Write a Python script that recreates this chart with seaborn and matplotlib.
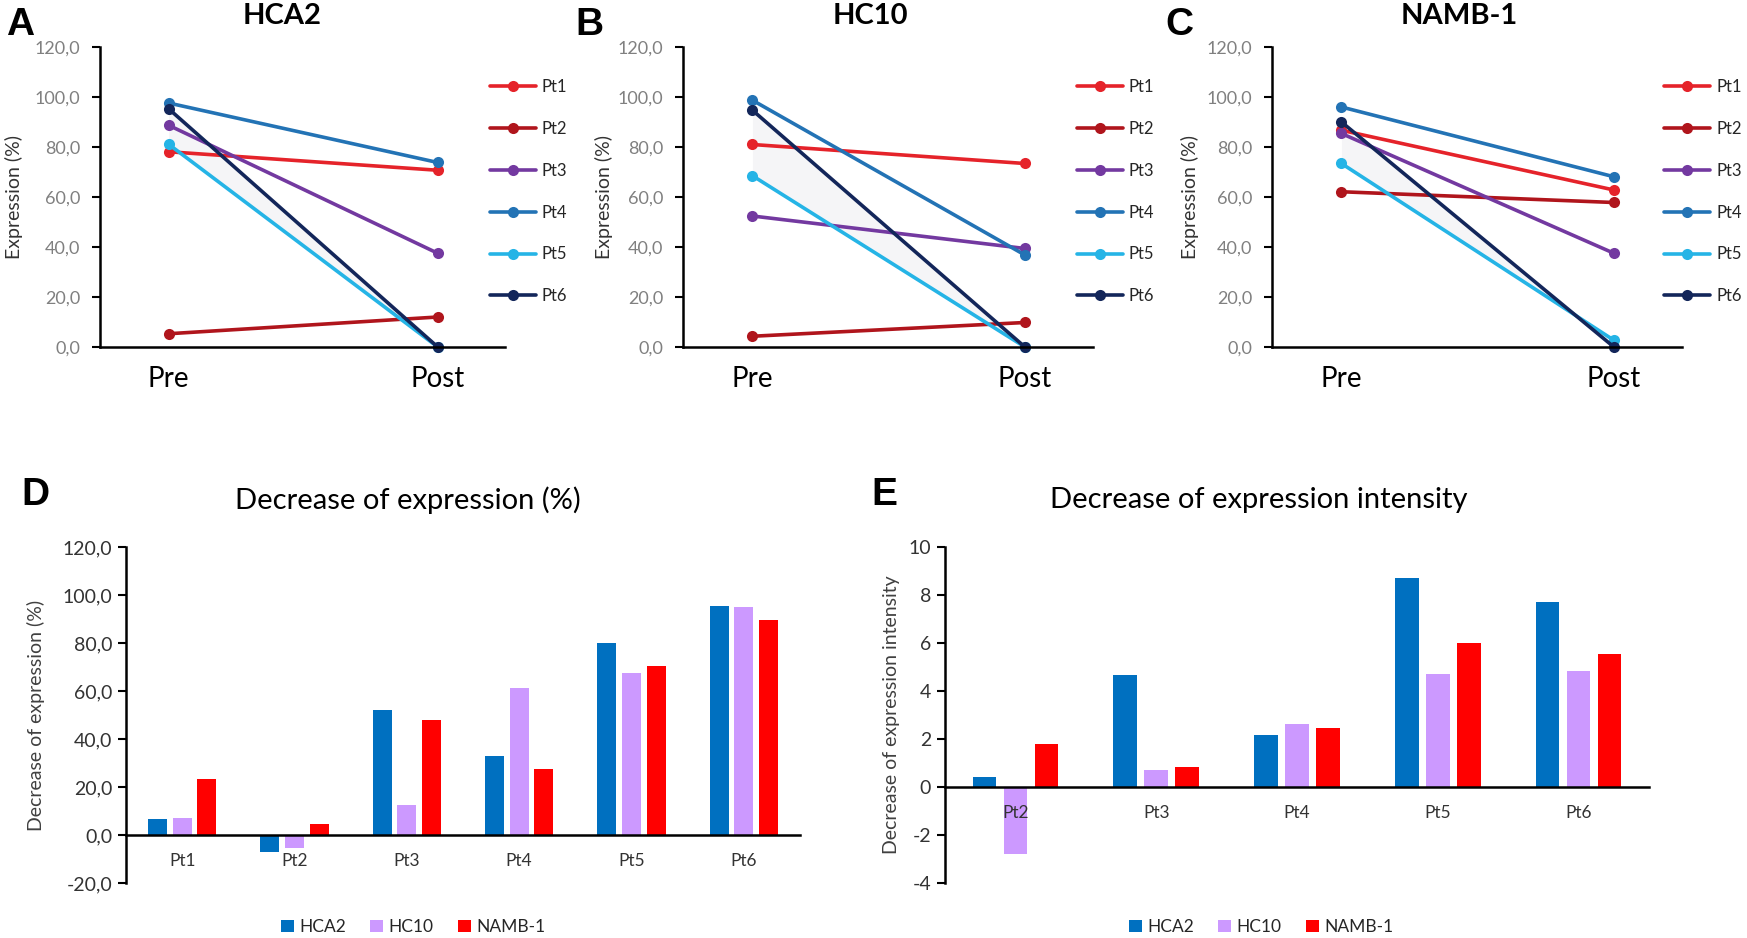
import numpy as np
import pandas as pd
import matplotlib
matplotlib.use("Agg")
import matplotlib.pyplot as plt
import seaborn as sns

# ---------------- data ----------------
patients = ["Pt1", "Pt2", "Pt3", "Pt4", "Pt5", "Pt6"]
timepoints = ["Pre", "Post"]

hca2_pre = [78.1, 5.3, 88.7, 97.6, 81.1, 95.3]
hca2_post = [70.7, 12.0, 37.5, 73.8, 0.0, 0.0]
hc10_pre = [81.0, 4.3, 52.4, 98.7, 68.5, 94.7]
hc10_post = [73.4, 9.8, 39.4, 36.8, 0.0, 0.0]
namb_pre = [86.7, 62.1, 85.4, 96.0, 73.4, 90.0]
namb_post = [62.8, 57.8, 37.5, 68.1, 2.7, 0.0]

markers = ["HCA2", "HC10", "NAMB-1"]
dec_pct_hca2 = [6.7, -7.0, 51.9, 32.8, 80.2, 95.4]
dec_pct_hc10 = [7.0, -5.3, 12.6, 61.1, 67.5, 94.9]
dec_pct_namb = [23.4, 4.5, 48.0, 27.6, 70.6, 89.6]

int_patients = ["Pt2", "Pt3", "Pt4", "Pt5", "Pt6"]
dec_int_hca2 = [0.43, 4.65, 2.17, 8.72, 7.72]
dec_int_hc10 = [-2.79, 0.70, 2.62, 4.71, 4.82]
dec_int_namb = [1.81, 0.84, 2.45, 5.99, 5.54]

pct_ticks = [0, 20, 40, 60, 80, 100, 120]
dec_pct_ticks = [-20, 0, 20, 40, 60, 80, 100, 120]
dec_int_ticks = [-4, -2, 0, 2, 4, 6, 8, 10]

# ---------------- style ----------------
pt_colors = ["#E5232A", "#B0151C", "#7339A0", "#2373B5", "#25B4E6", "#13265A"]
bar_colors = ["#0070C0", "#CC99FF", "#FF0000"]

sns.set_theme(style="white")
plt.rcParams["font.family"] = ["Lato", "DejaVu Sans"]

W, H = 1747, 938
fig = plt.figure(figsize=(W / 100, H / 100), dpi=100)


def ax_px(l, r, t, b):
    return fig.add_axes([l / W, 1 - b / H, (r - l) / W, (b - t) / H])


def fmt1(v):
    return f"{v:.1f}".replace(".", ",")


def style_common(ax):
    for s in ["top", "right"]:
        ax.spines[s].set_visible(False)
    for s in ["left", "bottom"]:
        ax.spines[s].set_color("black")
        ax.spines[s].set_linewidth(1.8)


def line_panel(box, pre, post, title, title_x, letter, letter_x, ylab_x, leg_x):
    ax = ax_px(*box)
    df = pd.DataFrame({
        "patient": patients * 2,
        "time": [timepoints[0]] * len(pre) + [timepoints[1]] * len(post),
        "value": pre + post,
    })
    sns.lineplot(data=df, x="time", y="value", hue="patient", hue_order=patients,
                 palette=pt_colors, marker="o", markersize=8, markeredgewidth=0,
                 linewidth=2.6, legend=False, estimator=None, ax=ax)
    lines = ax.lines[:6]
    for ln in lines:
        ln.set_clip_on(False)
    ax.fill_between(lines[4].get_xdata(), lines[4].get_ydata(), lines[5].get_ydata(),
                    color="#F5F5F7", zorder=0.5, linewidth=0)
    style_common(ax)
    ax.set_xlim(-0.255, 1.25)
    ax.set_ylim(0, 120)
    ax.set_yticks(pct_ticks)
    ax.set_yticklabels([fmt1(v) for v in pct_ticks])
    ax.tick_params(axis="y", left=True, length=6, width=1.5, color="black",
                   labelcolor="#808080", labelsize=13, pad=8)
    ax.tick_params(axis="x", bottom=False, length=0, labelsize=20, labelcolor="black", pad=14)
    ax.set_xlabel("")
    ax.set_ylabel("Expression (%)", fontsize=14, color="#333333")
    ax.yaxis.set_label_coords(ylab_x, 0.5)
    ax.legend(handles=lines, labels=patients, loc="upper left",
              bbox_to_anchor=(leg_x, 0.893), frameon=False, fontsize=12,
              labelcolor="#262626",
              handlelength=2.75, handletextpad=0.35, labelspacing=1.55,
              borderpad=0, borderaxespad=0)
    fig.text(title_x / W, 1 - 16 / H, title, ha="center", va="center",
             fontsize=21, fontweight="bold", color="black")
    fig.text(letter_x / W, 1 - 35 / H, letter, ha="left", va="baseline",
             fontsize=28, fontweight="bold", family="Liberation Sans", color="black")
    return ax


line_panel((100, 505, 47, 347), hca2_pre, hca2_post, "HCA2", 282, "A", 6, -0.19, 0.963)
line_panel((683, 1093, 47, 347), hc10_pre, hc10_post, "HC10", 870, "B", 575, -0.171, 0.961)
line_panel((1272, 1682, 47, 347), namb_pre, namb_post, "NAMB-1", 1459, "C", 1165, -0.178, 0.957)


def bar_panel(box, cats, series, ticks, labels, ylabel, title, title_x, letter, letter_x,
              ylab_x, leg_x):
    ax = ax_px(*box)
    df = pd.DataFrame({
        "patient": cats * len(series),
        "marker": [m for m in markers for _ in cats],
        "value": [v for s in series for v in s],
    })
    sns.barplot(data=df, x="patient", y="value", hue="marker", hue_order=markers,
                order=cats, palette=bar_colors, width=0.66, gap=0.24, errorbar=None,
                saturation=1, linewidth=0, ax=ax)
    style_common(ax)
    ax.set_axisbelow(False)
    ax.spines["bottom"].set_position(("data", 0))
    ax.set_xlim(-0.5, len(cats) - 0.5)
    ax.set_ylim(ticks[0], ticks[-1])
    ax.set_yticks(ticks)
    ax.set_yticklabels(labels)
    ax.tick_params(axis="y", left=True, length=6, width=1.5, color="black",
                   labelcolor="#333333", labelsize=14, pad=4)
    ax.tick_params(axis="x", bottom=False, length=0, labelsize=12.5, labelcolor="#333333", pad=13)
    ax.set_xlabel("")
    ax.set_ylabel(ylabel, fontsize=14, color="#404040")
    ax.yaxis.set_label_coords(ylab_x, 0.5)
    sns.move_legend(ax, "center", bbox_to_anchor=(leg_x, -0.131), ncol=3, frameon=False,
                    title=None, fontsize=12.5, handlelength=0.75, handleheight=0.75,
                    handletextpad=0.3, columnspacing=1.4, labelcolor="#262626")
    fig.text(title_x / W, 1 - 500 / H, title, ha="center", va="center",
             fontsize=21, color="black")
    fig.text(letter_x / W, 1 - 505 / H, letter, ha="left", va="baseline",
             fontsize=28, fontweight="bold", family="Liberation Sans", color="black")
    return ax


bar_panel((126, 800, 547, 883), patients, [dec_pct_hca2, dec_pct_hc10, dec_pct_namb],
          dec_pct_ticks, [fmt1(v) for v in dec_pct_ticks], "Decrease of expression (%)",
          "Decrease of expression (%)", 408, "D", 21, -0.12, 0.426)
bar_panel((945, 1649, 547, 883), int_patients, [dec_int_hca2, dec_int_hc10, dec_int_namb],
          dec_int_ticks, [str(v) for v in dec_int_ticks], "Decrease of expression intensity",
          "Decrease of expression intensity", 1259, "E", 871, -0.064, 0.449)

fig.savefig("out.png", dpi=100)
